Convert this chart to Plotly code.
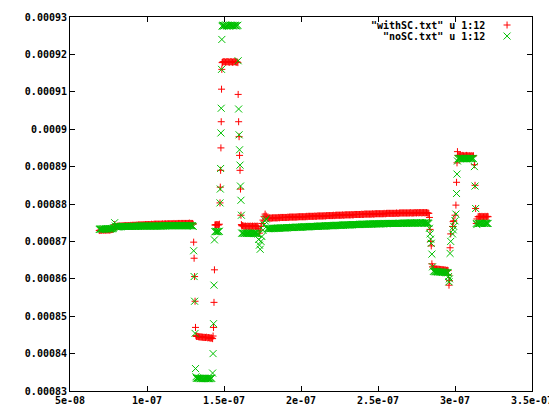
import plotly.graph_objects as go

# sample times (ns), shared by both files
time_ns = [
    # start plateau
    69, 69.5, 70, 70.5, 71, 71.5, 72, 72.5, 73, 73.5,
    74, 74.5, 75, 75.5, 76, 76.5, 77, 77.5, 78, 78.5,
    79, 79.5, 80, 80.5, 81, 81.5, 82, 82.5, 83, 83.5,
    84, 84.5, 85, 85.5, 86, 86.5, 87, 87.5, 88, 88.5,
    89, 89.5, 90, 90.5, 91, 91.5, 92, 92.5, 93, 93.5,
    94, 94.5, 95, 95.5, 96, 96.5, 97, 97.5, 98, 98.5,
    99, 99.5, 100, 100.5, 101, 101.5, 102, 102.5, 103, 103.5,
    104, 104.5, 105, 105.5, 106, 106.5, 107, 107.5, 108, 108.5,
    109, 109.5, 110, 110.5, 111, 111.5, 112, 112.5, 113, 113.5,
    114, 114.5, 115, 115.5, 116, 116.5, 117, 117.5, 118, 118.5,
    119, 119.5, 120, 120.5, 121, 121.5, 122, 122.5, 123, 123.5,
    124, 124.5, 125, 125.5, 126, 126.5, 127, 127.5, 128, 128.5,
    129, 129.5,
    # fall
    130.0, 130.3, 130.6, 130.9, 131.2, 131.5, 131.8, 132.1,
    # low plateau
    132.5, 133, 133.5, 134, 134.5, 135, 135.5, 136, 136.5, 137,
    137.5, 138, 138.5, 139, 139.5, 140, 140.5, 141, 141.5, 142,
    # rise
    142.6, 142.9, 143.2, 143.5, 143.8, 144.1,
    144.5, 145.0, 145.5, 146.0, 146.5, 147.0,
    147.4, 147.6, 147.8, 148.0, 148.2, 148.4, 148.6, 148.8,
    # top plateau
    149, 149.5, 150, 150.5, 151, 151.5, 152, 152.5, 153, 153.5,
    154, 154.5, 155, 155.5, 156, 156.5, 157, 157.5, 158, 158.5,
    159,
    # fall
    159.2, 159.5, 159.8, 160.1, 160.4, 160.7, 161.0, 161.3,
    161.5, 162, 162.5, 163, 163.5, 164, 164.5, 165, 165.5, 166,
    166.5, 167, 167.5, 168, 168.5, 169, 169.5, 170, 170.5, 171,
    171.5, 172,
    172.5, 173.0, 173.5, 174.0, 174.6, 175.3, 176.0, 176.7, 177.4,
    # long plateau
    178, 178.5, 179, 179.5, 180, 180.5, 181, 181.5, 182, 182.5,
    183, 183.5, 184, 184.5, 185, 185.5, 186, 186.5, 187, 187.5,
    188, 188.5, 189, 189.5, 190, 190.5, 191, 191.5, 192, 192.5,
    193, 193.5, 194, 194.5, 195, 195.5, 196, 196.5, 197, 197.5,
    198, 198.5, 199, 199.5, 200, 200.5, 201, 201.5, 202, 202.5,
    203, 203.5, 204, 204.5, 205, 205.5, 206, 206.5, 207, 207.5,
    208, 208.5, 209, 209.5, 210, 210.5, 211, 211.5, 212, 212.5,
    213, 213.5, 214, 214.5, 215, 215.5, 216, 216.5, 217, 217.5,
    218, 218.5, 219, 219.5, 220, 220.5, 221, 221.5, 222, 222.5,
    223, 223.5, 224, 224.5, 225, 225.5, 226, 226.5, 227, 227.5,
    228, 228.5, 229, 229.5, 230, 230.5, 231, 231.5, 232, 232.5,
    233, 233.5, 234, 234.5, 235, 235.5, 236, 236.5, 237, 237.5,
    238, 238.5, 239, 239.5, 240, 240.5, 241, 241.5, 242, 242.5,
    243, 243.5, 244, 244.5, 245, 245.5, 246, 246.5, 247, 247.5,
    248, 248.5, 249, 249.5, 250, 250.5, 251, 251.5, 252, 252.5,
    253, 253.5, 254, 254.5, 255, 255.5, 256, 256.5, 257, 257.5,
    258, 258.5, 259, 259.5, 260, 260.5, 261, 261.5, 262, 262.5,
    263, 263.5, 264, 264.5, 265, 265.5, 266, 266.5, 267, 267.5,
    268, 268.5, 269, 269.5, 270, 270.5, 271, 271.5, 272, 272.5,
    273, 273.5, 274, 274.5, 275, 275.5, 276, 276.5, 277, 277.5,
    278, 278.5, 279, 279.5, 280, 280.5, 281, 281.5, 282, 282.5,
    # fall
    283.0, 283.4, 283.8, 284.2, 284.6, 285.0, 285.4,
    286, 286.5, 287, 287.5, 288, 288.5, 289, 289.5, 290, 290.5,
    291, 291.5, 292, 292.5, 293, 293.5, 294, 294.5, 295, 295.5,
    295.8, 296.1, 296.4, 296.8, 297.2,
    298.4, 298.8, 299.2, 300.0, 300.6, 301.0, 301.3, 301.6,
    302, 302.5, 303, 303.5, 304, 304.5, 305, 305.5, 306, 306.5,
    307, 307.5, 308, 308.5, 309, 309.5, 310, 310.5, 311, 311.5,
    312,
    312.6, 313.0, 313.4, 313.8, 314.2,
    315, 315.5, 316, 316.5, 317, 317.5, 318, 318.5, 319, 319.5,
    320, 320.5, 321, 321.5,
]

# column 12 values, in units of 1e-7
withSC_1e7 = [
    8729, 8730, 8730, 8730, 8731, 8730, 8730, 8731, 8730, 8731,
    8730, 8731, 8731, 8730, 8731, 8731, 8732, 8732, 8733, 8735,
    8745, 8738, 8740, 8740, 8741, 8740, 8741, 8741, 8741, 8741,
    8741, 8742, 8741, 8742, 8742, 8742, 8742, 8742, 8742, 8742,
    8742, 8743, 8742, 8743, 8743, 8743, 8743, 8743, 8743, 8744,
    8743, 8744, 8744, 8744, 8744, 8744, 8744, 8744, 8745, 8744,
    8745, 8745, 8745, 8745, 8745, 8745, 8745, 8745, 8746, 8745,
    8745, 8746, 8746, 8746, 8746, 8746, 8746, 8746, 8746, 8746,
    8746, 8746, 8747, 8746, 8746, 8747, 8747, 8746, 8747, 8747,
    8747, 8747, 8747, 8747, 8747, 8747, 8747, 8748, 8747, 8747,
    8747, 8748, 8747, 8748, 8748, 8747, 8748, 8748, 8748, 8748,
    8748, 8748, 8748, 8748, 8748, 8748, 8748, 8749, 8748, 8748,
    8748, 8748,
    8746, 8698, 8655, 8606, 8540, 8470, 8448, 8446,
    8446, 8446, 8445, 8445, 8444, 8445, 8444, 8444, 8443, 8444,
    8443, 8443, 8444, 8443, 8442, 8443, 8442, 8442, 8441, 8442,
    8440, 8447, 8470, 8537, 8624, 8744,
    8744, 8745, 8744, 8745, 8744, 8746,
    8803, 8845, 8890, 8950, 9020, 9107, 9160, 9178,
    9179, 9180, 9181, 9180, 9179, 9180, 9181, 9180, 9180, 9179,
    9180, 9181, 9180, 9179, 9180, 9180, 9181, 9180, 9179, 9180,
    9178,
    9093, 9020, 8980, 8930, 8890, 8840, 8770, 8745,
    8742, 8742, 8741, 8741, 8740, 8741, 8740, 8740, 8741, 8740,
    8740, 8741, 8740, 8740, 8741, 8740, 8740, 8741, 8740, 8740,
    8741, 8740,
    8735, 8722, 8730, 8740, 8748, 8757, 8767, 8773, 8768,
    8763, 8762, 8762, 8763, 8762, 8763, 8762, 8763, 8763, 8763,
    8763, 8763, 8763, 8763, 8763, 8764, 8763, 8764, 8764, 8764,
    8764, 8764, 8764, 8764, 8764, 8764, 8764, 8765, 8764, 8765,
    8765, 8765, 8765, 8765, 8765, 8765, 8765, 8765, 8765, 8766,
    8765, 8766, 8766, 8766, 8766, 8766, 8766, 8766, 8766, 8766,
    8766, 8767, 8766, 8767, 8767, 8767, 8767, 8767, 8767, 8767,
    8767, 8767, 8768, 8767, 8767, 8768, 8768, 8768, 8768, 8768,
    8768, 8768, 8768, 8768, 8769, 8768, 8768, 8769, 8769, 8769,
    8769, 8769, 8769, 8769, 8769, 8769, 8770, 8769, 8769, 8770,
    8770, 8770, 8770, 8770, 8770, 8770, 8770, 8770, 8771, 8770,
    8770, 8771, 8771, 8771, 8771, 8771, 8771, 8771, 8771, 8771,
    8772, 8771, 8771, 8772, 8772, 8772, 8772, 8772, 8772, 8772,
    8772, 8772, 8772, 8773, 8772, 8772, 8773, 8773, 8773, 8773,
    8773, 8773, 8773, 8773, 8773, 8773, 8773, 8774, 8773, 8773,
    8774, 8774, 8774, 8774, 8774, 8774, 8774, 8774, 8774, 8774,
    8774, 8774, 8775, 8774, 8774, 8775, 8775, 8775, 8775, 8775,
    8775, 8775, 8775, 8775, 8775, 8775, 8775, 8775, 8776, 8775,
    8775, 8775, 8776, 8776, 8776, 8776, 8776, 8776, 8776, 8776,
    8776, 8776, 8776, 8776, 8776, 8776, 8777, 8776, 8776, 8776,
    8776, 8777, 8776, 8777, 8776, 8777, 8777, 8776, 8777, 8777,
    8777, 8776, 8777, 8777, 8777, 8776, 8777, 8777, 8776, 8776,
    8775, 8764, 8732, 8700, 8688, 8640, 8632,
    8628, 8627, 8627, 8626, 8626, 8626, 8625, 8626, 8625, 8625,
    8624, 8625, 8624, 8624, 8623, 8624, 8623, 8622, 8623, 8622,
    8610, 8583, 8595, 8683, 8720,
    8740, 8753, 8755, 8770, 8797, 8858, 8910, 8940,
    8930, 8929, 8929, 8930, 8929, 8929, 8930, 8929, 8928, 8929,
    8929, 8930, 8929, 8928, 8929, 8929, 8928, 8929, 8929, 8928,
    8929,
    8905, 8850, 8788, 8748, 8760,
    8766, 8766, 8767, 8766, 8766, 8767, 8766, 8766, 8766, 8767,
    8766, 8766, 8767, 8766,
]

noSC_1e7 = [
    8732, 8733, 8733, 8733, 8733, 8734, 8733, 8733, 8734, 8733,
    8733, 8734, 8733, 8734, 8733, 8734, 8734, 8734, 8735, 8737,
    8750, 8741, 8739, 8739, 8739, 8739, 8739, 8740, 8739, 8740,
    8740, 8740, 8740, 8740, 8740, 8740, 8740, 8740, 8740, 8740,
    8740, 8740, 8740, 8740, 8740, 8741, 8740, 8740, 8740, 8741,
    8741, 8740, 8741, 8741, 8741, 8741, 8741, 8741, 8741, 8741,
    8741, 8741, 8741, 8741, 8741, 8741, 8741, 8741, 8741, 8741,
    8741, 8741, 8741, 8741, 8741, 8741, 8741, 8741, 8742, 8741,
    8741, 8741, 8742, 8741, 8742, 8742, 8741, 8742, 8742, 8742,
    8742, 8742, 8742, 8742, 8742, 8742, 8742, 8742, 8742, 8742,
    8742, 8742, 8742, 8742, 8742, 8742, 8742, 8742, 8742, 8742,
    8742, 8742, 8742, 8742, 8742, 8742, 8742, 8742, 8742, 8742,
    8742, 8742,
    8740, 8675, 8606, 8540, 8454, 8360, 8338, 8334,
    8335, 8334, 8334, 8334, 8333, 8334, 8333, 8334, 8333, 8333,
    8334, 8333, 8333, 8334, 8333, 8333, 8334, 8333, 8334, 8334,
    8348, 8400, 8480, 8583, 8704, 8726,
    8726, 8727, 8726, 8726, 8727, 8727,
    8803, 8840, 8895, 8990, 9056, 9160, 9240, 9275,
    9277, 9278, 9276, 9277, 9279, 9277, 9276, 9278, 9277, 9276,
    9278, 9277, 9277, 9278, 9276, 9277, 9278, 9277, 9276, 9277,
    9278,
    9183, 9054, 8985, 8945, 8904, 8848, 8810, 8770,
    8722, 8722, 8722, 8721, 8722, 8722, 8721, 8722, 8722, 8721,
    8722, 8722, 8721, 8722, 8722, 8721, 8722, 8722, 8721, 8722,
    8721, 8720,
    8705, 8690, 8679, 8700, 8713, 8730, 8744, 8755, 8760,
    8734, 8734, 8734, 8735, 8734, 8734, 8735, 8735, 8734, 8735,
    8735, 8735, 8735, 8735, 8736, 8735, 8735, 8736, 8736, 8736,
    8736, 8736, 8736, 8736, 8736, 8737, 8736, 8737, 8737, 8737,
    8737, 8737, 8737, 8737, 8738, 8737, 8737, 8738, 8738, 8738,
    8738, 8738, 8738, 8738, 8738, 8739, 8738, 8739, 8739, 8739,
    8739, 8739, 8739, 8739, 8739, 8740, 8739, 8740, 8740, 8740,
    8740, 8740, 8740, 8740, 8740, 8740, 8741, 8740, 8741, 8741,
    8741, 8741, 8741, 8741, 8741, 8741, 8742, 8741, 8742, 8742,
    8742, 8742, 8742, 8742, 8742, 8742, 8742, 8743, 8742, 8743,
    8743, 8743, 8743, 8743, 8743, 8743, 8743, 8743, 8744, 8743,
    8744, 8744, 8744, 8744, 8744, 8744, 8744, 8744, 8744, 8745,
    8744, 8745, 8745, 8745, 8745, 8745, 8745, 8745, 8745, 8745,
    8745, 8746, 8745, 8746, 8746, 8746, 8746, 8746, 8746, 8746,
    8746, 8746, 8746, 8746, 8747, 8746, 8746, 8747, 8747, 8747,
    8747, 8747, 8747, 8747, 8747, 8747, 8747, 8747, 8747, 8748,
    8747, 8747, 8748, 8748, 8748, 8747, 8748, 8748, 8748, 8748,
    8748, 8748, 8748, 8748, 8748, 8748, 8748, 8748, 8748, 8748,
    8748, 8748, 8749, 8748, 8748, 8748, 8749, 8748, 8749, 8749,
    8749, 8748, 8749, 8749, 8749, 8749, 8749, 8749, 8749, 8749,
    8749, 8749, 8749, 8749, 8750, 8749, 8749, 8749, 8749, 8750,
    8749, 8749, 8750, 8749, 8749, 8749, 8750, 8749, 8749, 8749,
    8748, 8735, 8720, 8706, 8695, 8666, 8632,
    8620, 8620, 8619, 8619, 8619, 8619, 8618, 8619, 8618, 8618,
    8618, 8618, 8617, 8618, 8617, 8617, 8617, 8616, 8617, 8616,
    8606, 8592, 8600, 8668, 8700,
    8720, 8731, 8740, 8755, 8773, 8828, 8880, 8915,
    8921, 8922, 8921, 8922, 8922, 8921, 8922, 8921, 8922, 8922,
    8921, 8922, 8921, 8921, 8922, 8922, 8921, 8922, 8921, 8922,
    8921,
    8900, 8848, 8788, 8748, 8745,
    8748, 8748, 8748, 8749, 8748, 8748, 8748, 8749, 8748, 8748,
    8749, 8748, 8748, 8748,
]

assert len(time_ns) == len(withSC_1e7) == len(noSC_1e7), (len(time_ns), len(withSC_1e7), len(noSC_1e7))

series_names = ['"withSC.txt" u 1:12', '"noSC.txt" u 1:12']
series_colors = ["#ff0000", "#00c000"]
series_symbols = ["cross-thin", "x-thin"]
series_sizes = [5, 7]

x_tickvals = [5e-08, 1e-07, 1.5e-07, 2e-07, 2.5e-07, 3e-07, 3.5e-07]
x_ticktext = ["5e-08", "1e-07", "1.5e-07", "2e-07", "2.5e-07", "3e-07", "3.5e-07"]
y_tickvals = [0.00083, 0.00084, 0.00085, 0.00086, 0.00087, 0.00088,
              0.00089, 0.0009, 0.00091, 0.00092, 0.00093]
y_ticktext = ["0.00083", "0.00084", "0.00085", "0.00086", "0.00087", "0.00088",
              "0.00089", "0.0009", "0.00091", "0.00092", "0.00093"]

x_vals = [t * 1e-9 for t in time_ns]
series_vals = [[v * 1e-7 for v in withSC_1e7], [v * 1e-7 for v in noSC_1e7]]

FONT = dict(family="DejaVu Sans Mono", size=10, color="black", weight="bold")

fig = go.Figure()
for name, ys, col, sym, sz in zip(series_names, series_vals, series_colors, series_symbols, series_sizes):
    fig.add_trace(go.Scatter(
        x=x_vals, y=ys, mode="markers", name=name, showlegend=False,
        marker=dict(symbol=sym, size=sz, color=col, line=dict(color=col, width=1)),
        cliponaxis=False,
    ))

axis_common = dict(
    showgrid=False, zeroline=False, showline=True, linecolor="black", linewidth=1,
    ticks="inside", ticklen=5, tickcolor="black", tickwidth=1, mirror="allticks",
    tickfont=FONT, automargin=False, ticklabeloverflow="allow",
)
fig.update_xaxes(range=[4.99999e-08, 3.500001e-07], tickvals=x_tickvals, ticktext=x_ticktext, **axis_common)
fig.update_yaxes(range=[0.00083, 0.00093], tickvals=y_tickvals, ticktext=y_ticktext, **axis_common)

# legend (gnuplot style: right-aligned text, sample to the right)
legend_y = [0.9786, 0.949]
for name, col, sym, ly in zip(series_names, series_colors, series_symbols, legend_y):
    fig.add_annotation(xref="paper", yref="paper", x=0.9026, y=ly, text=name,
                       showarrow=False, xanchor="right", yanchor="middle", font=FONT)
    path = "M-3.5,0 L3.5,0 M0,-3.5 L0,3.5" if sym == "cross-thin" else "M-3.5,-3.5 L3.5,3.5 M-3.5,3.5 L3.5,-3.5"
    fig.add_shape(type="path", xref="paper", yref="paper", xsizemode="pixel", ysizemode="pixel",
                  xanchor=0.946, yanchor=ly, path=path, line=dict(color=col, width=1))

fig.update_layout(
    width=549, height=406, margin=dict(l=70, r=17, t=17, b=15),
    paper_bgcolor="white", plot_bgcolor="white", showlegend=False,
)

fig.write_html("out.html")
